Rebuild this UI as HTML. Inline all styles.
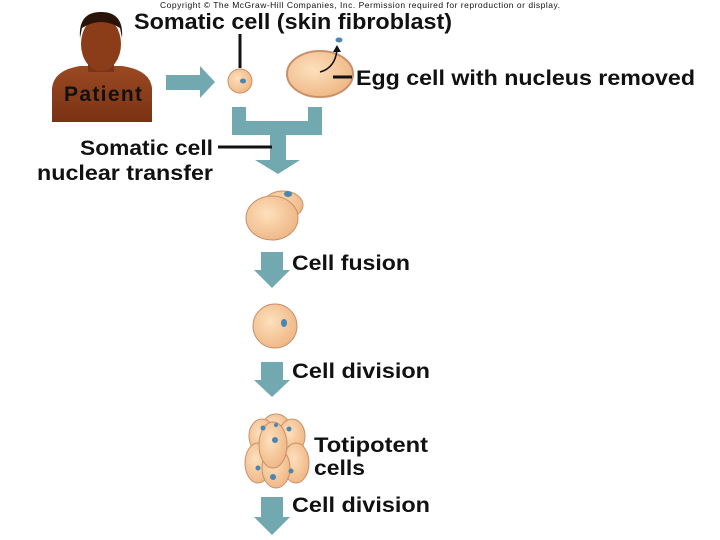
<!DOCTYPE html>
<html><head><style>body{margin:0;background:#fff}svg{display:block}text{font-family:"Liberation Sans",sans-serif;font-weight:bold;fill:#111}</style></head><body>
<svg width="720" height="540" viewBox="0 0 720 540">
<defs><radialGradient id="c" cx="0.4" cy="0.4" r="0.7"><stop offset="0" stop-color="#fde0bd"/><stop offset="1" stop-color="#eeb37f"/></radialGradient>
<linearGradient id="s" x1="0" y1="0" x2="0" y2="1"><stop offset="0" stop-color="#9a4a22"/><stop offset="1" stop-color="#7a3214"/></linearGradient></defs>
<text x="160" y="8" font-size="8.5" style="font-weight:normal" textLength="400">Copyright © The McGraw-Hill Companies, Inc. Permission required for reproduction or display.</text>
<!-- patient -->
<path d="M52 122 L52 88 Q54 70 80 66 L122 66 Q150 70 152 88 L152 122Z" fill="url(#s)"/>
<rect x="88" y="52" width="26" height="20" fill="#7a3517"/>
<ellipse cx="101" cy="44" rx="20" ry="27" fill="#8b3c19"/>
<path d="M80 38 Q78 12 101 12 Q124 12 122 38 L120 28 Q101 16 82 28Z" fill="#2a140a"/>
<text x="64" y="101" font-size="21" fill="#1a0a04" textLength="78">Patient</text>
<!-- arrow -->
<polygon points="166,75 200,75 200,66 215,82 200,98 200,90 166,90" fill="#72a8b0"/>
<text x="134" y="29" font-size="22" textLength="318" lengthAdjust="spacingAndGlyphs">Somatic cell (skin fibroblast)</text>
<line x1="240" y1="34" x2="240" y2="68" stroke="#111" stroke-width="3"/>
<circle cx="240" cy="81" r="12" fill="url(#c)" stroke="#c9906a"/>
<ellipse cx="243" cy="81" rx="3" ry="2.5" fill="#4a86b0"/>
<ellipse cx="320" cy="74" rx="33" ry="23" fill="url(#c)" stroke="#c9906a" stroke-width="2"/>
<path d="M320 72 Q335 68 337 50" stroke="#111" stroke-width="1.5" fill="none"/>
<polygon points="333,52 341,52 337,45" fill="#111"/>
<ellipse cx="339" cy="40" rx="3.5" ry="2.5" fill="#4a86b0"/>
<line x1="333" y1="77" x2="352" y2="77" stroke="#111" stroke-width="3"/>
<text x="356" y="85" font-size="21" textLength="339" lengthAdjust="spacingAndGlyphs">Egg cell with nucleus removed</text>
<!-- bracket -->
<path d="M232 107 H246 V121 H308 V107 H322 V135 H286 V160 H300 L278 174 L255 160 H270 V135 H232Z" fill="#72a8b0"/>
<line x1="218" y1="147" x2="272" y2="147" stroke="#111" stroke-width="3"/>
<text x="80" y="155" font-size="21" textLength="133" lengthAdjust="spacingAndGlyphs">Somatic cell</text>
<text x="37" y="180" font-size="21" textLength="176" lengthAdjust="spacingAndGlyphs">nuclear transfer</text>
<!-- fused -->
<ellipse cx="283" cy="205" rx="20" ry="14" fill="url(#c)" stroke="#c9906a"/>
<ellipse cx="272" cy="218" rx="26" ry="22" fill="url(#c)" stroke="#c9906a"/>
<ellipse cx="288" cy="194" rx="4" ry="3" fill="#4a86b0"/>
<polygon points="261,252 283,252 283,270 290,270 272,288 254,270 261,270" fill="#72a8b0"/>
<text x="292" y="270" font-size="21" textLength="118" lengthAdjust="spacingAndGlyphs">Cell fusion</text>
<circle cx="275" cy="326" r="22" fill="url(#c)" stroke="#c9906a"/>
<ellipse cx="284" cy="323" rx="3" ry="4" fill="#4a86b0"/>
<polygon points="261,362 283,362 283,380 290,380 272,397 254,380 261,380" fill="#72a8b0"/>
<text x="292" y="378" font-size="21" textLength="138" lengthAdjust="spacingAndGlyphs">Cell division</text>
<!-- cluster -->
<g fill="url(#c)" stroke="#c9906a">
<ellipse cx="276" cy="428" rx="14" ry="14"/><ellipse cx="262" cy="436" rx="13" ry="17"/><ellipse cx="292" cy="436" rx="13" ry="17"/>
<ellipse cx="258" cy="463" rx="13" ry="20"/><ellipse cx="296" cy="463" rx="13" ry="20"/><ellipse cx="276" cy="468" rx="14" ry="20"/>
<ellipse cx="273" cy="445" rx="14" ry="23"/></g>
<g fill="#4a86b0"><circle cx="263" cy="428" r="2.5"/><circle cx="289" cy="429" r="2.5"/><circle cx="275" cy="440" r="3"/><circle cx="276" cy="425" r="2"/><circle cx="258" cy="468" r="2.5"/><circle cx="273" cy="477" r="3"/><circle cx="291" cy="471" r="2.5"/></g>
<text x="314" y="452" font-size="21" textLength="114" lengthAdjust="spacingAndGlyphs">Totipotent</text>
<text x="314" y="475" font-size="21" textLength="51" lengthAdjust="spacingAndGlyphs">cells</text>
<polygon points="261,497 283,497 283,517 290,517 272,535 254,517 261,517" fill="#72a8b0"/>
<text x="292" y="512" font-size="21" textLength="138" lengthAdjust="spacingAndGlyphs">Cell division</text>
</svg></body></html>
